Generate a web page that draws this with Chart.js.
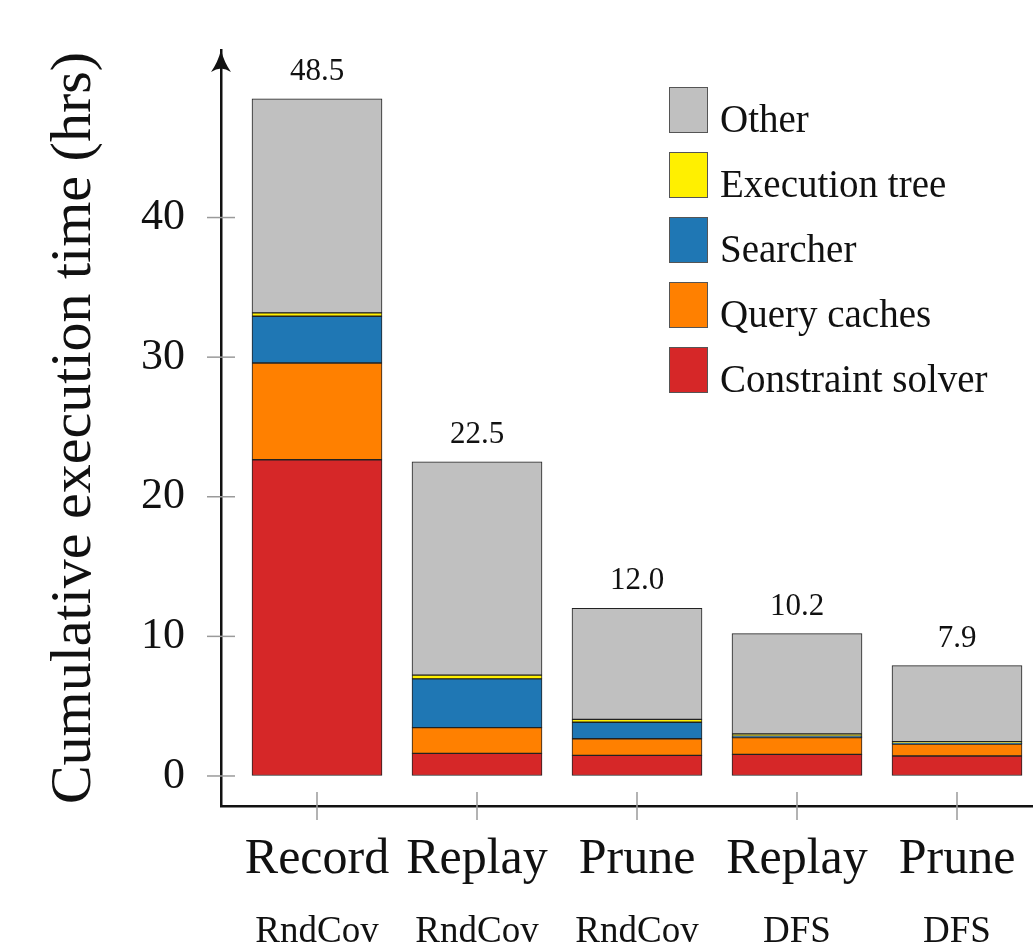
<!DOCTYPE html>
<html>
<head>
<meta charset="utf-8">
<script src="https://cdn.jsdelivr.net/npm/chart.js@4.4.0/dist/chart.umd.min.js"></script>
<style>
  html, body { margin: 0; padding: 0; background: #fff; }
</style>
</head>
<body>
<canvas id="exec-time" width="1033" height="945"></canvas>
<script>
// Data
const categories = ["Record", "Replay", "Prune", "Replay", "Prune"];
const strategies = ["RndCov", "RndCov", "RndCov", "DFS", "DFS"];
const yTicks = [0, 10, 20, 30, 40];

const constraintSolver = [22.65, 1.62, 1.48, 1.55, 1.43];
const queryCaches = [6.93, 1.84, 1.19, 1.20, 0.86];
const searcher = [3.35, 3.49, 1.18, 0.10, 0.05];
const executionTree = [0.24, 0.27, 0.20, 0.16, 0.12];
const other = [15.33, 15.28, 7.95, 7.19, 5.44];

const serif = "'Liberation Serif', 'DejaVu Serif', serif";

const series = [
  { label: "Constraint solver", data: constraintSolver, color: "#d62728" },
  { label: "Query caches", data: queryCaches, color: "#ff8000" },
  { label: "Searcher", data: searcher, color: "#1f77b4" },
  { label: "Execution tree", data: executionTree, color: "#fff000" },
  { label: "Other", data: other, color: "#c0c0c0" },
];

const totals = categories.map((c, i) => series.reduce((s, d) => s + d.data[i], 0));

// ticks that cross the axes, arrow head, totals and legend
const decorations = {
  id: "decorations",
  afterDraw(chart) {
    const ctx = chart.ctx;
    const { left, top, bottom } = chart.chartArea;
    const x = chart.scales.x;
    const y = chart.scales.y;
    ctx.save();

    ctx.strokeStyle = "#9a9a9a";
    ctx.lineWidth = 1.5;
    x.ticks.forEach(t => {
      const px = x.getPixelForValue(t.value);
      ctx.beginPath();
      ctx.moveTo(px, bottom - 14);
      ctx.lineTo(px, bottom + 14);
      ctx.stroke();
    });
    y.ticks.forEach(t => {
      const py = y.getPixelForValue(t.value);
      ctx.beginPath();
      ctx.moveTo(left - 14, py);
      ctx.lineTo(left + 14, py);
      ctx.stroke();
    });

    // arrow head
    ctx.fillStyle = "#111";
    ctx.beginPath();
    ctx.moveTo(left, top);
    ctx.quadraticCurveTo(left + 3, top + 12, left + 10, top + 22);
    ctx.quadraticCurveTo(left, top + 15, left - 10, top + 22);
    ctx.quadraticCurveTo(left - 3, top + 12, left, top);
    ctx.fill();

    // totals
    const meta = chart.getDatasetMeta(chart.data.datasets.length - 1);
    ctx.fillStyle = "#111";
    ctx.font = "31px " + serif;
    ctx.textAlign = "center";
    ctx.textBaseline = "alphabetic";
    meta.data.forEach((el, i) => {
      ctx.fillText(totals[i].toFixed(1), el.x, el.y - 19);
    });

    // legend
    ctx.textAlign = "left";
    ctx.font = "39px " + serif;
    const legendItems = chart.data.datasets.slice().reverse();
    legendItems.forEach((ds, i) => {
      const by = 87 + i * 65;
      ctx.fillStyle = ds.backgroundColor;
      ctx.fillRect(669, by, 39, 46);
      ctx.strokeStyle = "#555";
      ctx.lineWidth = 1;
      ctx.strokeRect(669.5, by + 0.5, 38, 45);
      ctx.fillStyle = "#111";
      ctx.fillText(ds.label, 720, by + 45);
    });

    ctx.restore();
  }
};

const catTicks = (axis) => {
  axis.ticks = categories.map((c, i) => ({ value: i }));
};

const execChart = new Chart(document.getElementById("exec-time"), {
  type: "bar",
  data: {
    datasets: series.map(s => ({
      label: s.label,
      data: s.data.map((v, i) => ({ x: i, y: v })),
      backgroundColor: s.color,
      borderColor: "#222",
      borderWidth: 1,
      borderSkipped: false,
      barThickness: 130,
    }))
  },
  options: {
    responsive: false,
    animation: false,
    layout: { padding: { top: 50, left: 0, right: 0, bottom: 0 }, autoPadding: false },
    plugins: {
      legend: { display: false },
      tooltip: { enabled: false },
    },
    scales: {
      x: {
        type: "linear",
        stacked: true,
        offset: false,
        min: -0.6,
        max: 4.475,
        afterBuildTicks: catTicks,
        afterFit: (axis) => { axis.height = 80; axis.paddingLeft = 0; axis.paddingRight = 0; },
        grid: { drawOnChartArea: false, drawTicks: false },
        border: { display: true, color: "#111", width: 2.5 },
        ticks: {
          padding: 24,
          color: "#111",
          font: { family: serif, size: 50, lineHeight: 1.2 },
          callback: (value) => categories[value],
        },
      },
      x2: {
        type: "linear",
        position: "bottom",
        offset: false,
        min: -0.6,
        max: 4.475,
        afterBuildTicks: catTicks,
        afterFit: (axis) => { axis.height = 59; axis.paddingLeft = 0; axis.paddingRight = 0; },
        grid: { display: false, drawTicks: false },
        border: { display: false },
        ticks: {
          padding: 24,
          color: "#111",
          font: { family: serif, size: 37, lineHeight: 1.2 },
          callback: (value) => strategies[value],
        },
      },
      y: {
        type: "linear",
        stacked: true,
        min: -2.15,
        max: 52.0,
        afterBuildTicks: (axis) => { axis.ticks = yTicks.map(v => ({ value: v })); },
        afterFit: (axis) => { axis.width = 221; axis.paddingTop = 0; axis.paddingBottom = 0; },
        grid: { drawOnChartArea: false, drawTicks: false },
        border: { display: true, color: "#111", width: 2.5 },
        ticks: {
          padding: 36,
          color: "#111",
          font: { family: serif, size: 44 },
        },
        title: {
          display: true,
          text: "Cumulative execution time (hrs)",
          color: "#111",
          font: { family: serif, size: 58, weight: "normal" },
          padding: { top: 40, bottom: 0 },
        },
      },
    },
  },
  plugins: [decorations],
});
</script>
</body>
</html>
